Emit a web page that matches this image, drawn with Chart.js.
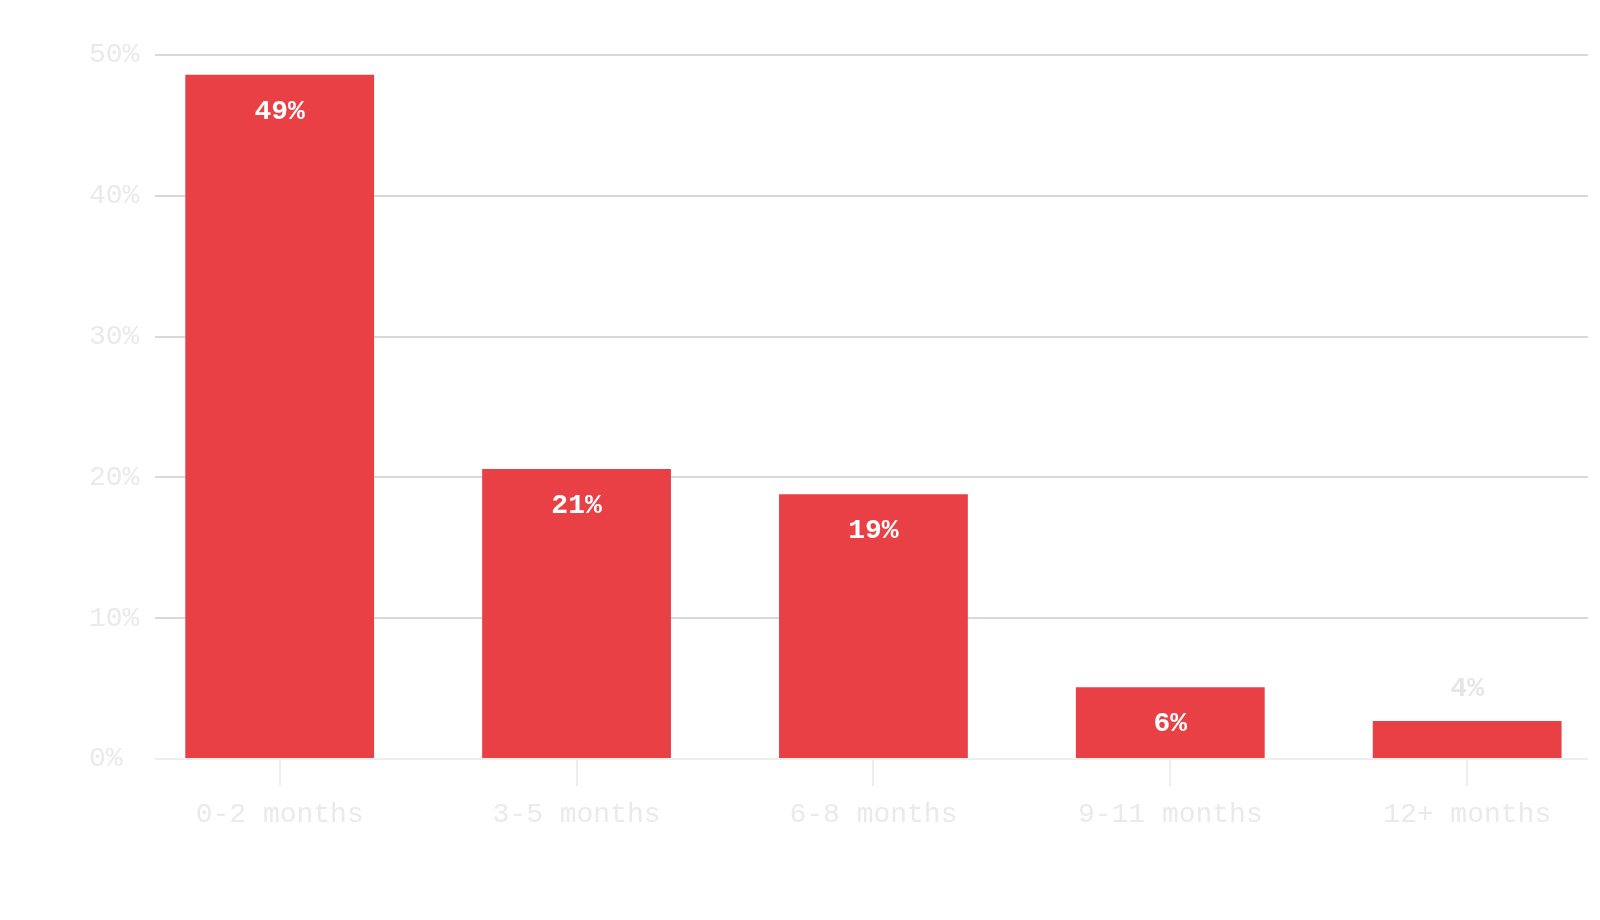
<!DOCTYPE html>
<html>
<head>
<meta charset="utf-8">
<script src="https://cdn.jsdelivr.net/npm/chart.js@4.4.0/dist/chart.umd.min.js"></script>
<style>
  html, body { margin: 0; padding: 0; background: #fff; }
  #wrap { width: 1600px; height: 920px; }
</style>
</head>
<body>
<div id="wrap"><canvas id="chart" width="1600" height="920"></canvas></div>
<script>
const categories = ['0-2 months', '3-5 months', '6-8 months', '9-11 months', '12+ months'];
const shares = [48.6, 20.6, 18.8, 5.1, 2.7];
const shareLabels = ['49%', '21%', '19%', '6%', '4%'];
const yTicks = [0, 10, 20, 30, 40, 50];

const MONO = '"Liberation Mono", "DejaVu Sans Mono", monospace';

// writes the percentage inside the bar, or above it when the bar is too short
const valueLabels = {
  id: 'valueLabels',
  afterDatasetsDraw(chart) {
    const ctx = chart.ctx;
    const meta = chart.getDatasetMeta(0);
    ctx.save();
    ctx.font = 'bold 28px ' + MONO;
    ctx.textAlign = 'center';
    ctx.textBaseline = 'middle';
    meta.data.forEach((bar, i) => {
      const h = bar.base - bar.y;
      if (h > 55) {
        ctx.fillStyle = '#ffffff';
        ctx.fillText(shareLabels[i], bar.x, bar.y + 37);
      } else {
        ctx.fillStyle = '#e6e6e6';
        ctx.fillText(shareLabels[i], bar.x, bar.y - 32);
      }
    });
    ctx.restore();
  }
};

new Chart(document.getElementById('chart'), {
  type: 'bar',
  data: {
    datasets: [{
      data: shares.map((v, i) => ({ x: i, y: v })),
      backgroundColor: '#e94045',
      borderWidth: 0,
      barPercentage: 0.636,
      categoryPercentage: 1
    }]
  },
  options: {
    responsive: false,
    animation: false,
    layout: { padding: { top: 55, right: 12, bottom: 0, left: 89 } },
    plugins: { legend: { display: false }, tooltip: { enabled: false } },
    scales: {
      x: {
        type: 'linear',
        min: -0.42,
        max: 4.407,
        offset: false,
        afterBuildTicks: s => { s.ticks = categories.map((_, i) => ({ value: i })); },
        afterFit: s => { s.height = 161; },
        border: { display: false },
        grid: {
          offset: false,
          drawOnChartArea: false,
          drawTicks: true,
          tickLength: 27,
          color: '#eeeeee',
          lineWidth: 2
        },
        ticks: {
          autoSkip: false,
          maxRotation: 0,
          padding: 12,
          color: '#eaeaea',
          font: { family: MONO, size: 28 },
          callback: v => categories[v]
        }
      },
      y: {
        min: 0,
        max: 50,
        afterBuildTicks: s => { s.ticks = yTicks.map(v => ({ value: v })); },
        afterFit: s => { s.width = 66; },
        border: { display: false },
        grid: {
          drawTicks: false,
          lineWidth: 2,
          color: c => c.tick && c.tick.value === 0 ? '#eeeeee' : '#d9d9d9'
        },
        ticks: {
          padding: 17,
          crossAlign: 'far',
          color: '#eaeaea',
          font: { family: MONO, size: 28 },
          callback: v => v + '%'
        }
      }
    }
  },
  plugins: [valueLabels]
});
</script>
</body>
</html>
